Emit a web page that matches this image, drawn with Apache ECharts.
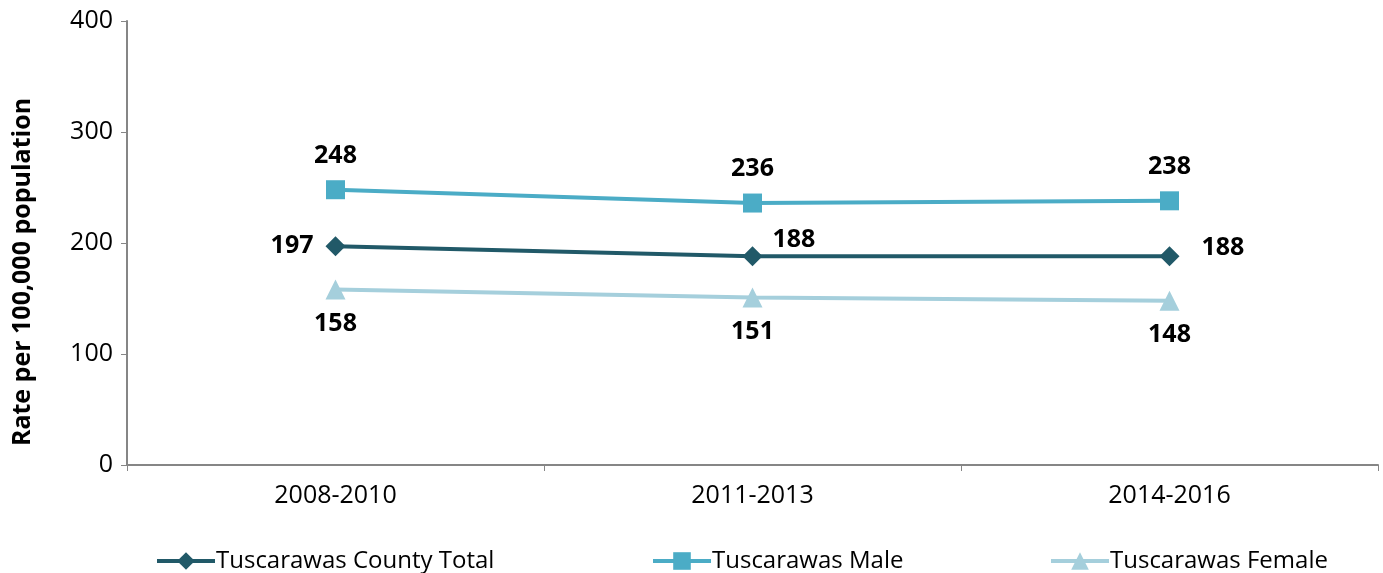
<!DOCTYPE html>
<html><head><meta charset="utf-8">
<script src="https://cdn.jsdelivr.net/npm/echarts@6/dist/echarts.min.js"></script>
<style>html,body{margin:0;padding:0;background:#fff}#c{width:1383px;height:573px}</style>
</head><body><div id="c"></div>
<script>
const categories = ['2008-2010', '2011-2013', '2014-2016'];
const totalValues = [197, 188, 188];
const maleValues = [248, 236, 238];
const femaleValues = [158, 151, 148];
const seriesNames = ['Tuscarawas County Total', 'Tuscarawas Male', 'Tuscarawas Female'];

const FONT = '"Open Sans", "Noto Sans", sans-serif';
const lbl = {show: true, fontFamily: FONT, fontWeight: 'bold', fontSize: 25, color: '#000'};
const chart = echarts.init(document.getElementById('c'));
const totalData = totalValues.map((v, i) => {
  const pos = [{position: 'left', distance: 12, offset: [0, 0]}, {position: 'right', distance: 10, offset: [0, -16]}, {position: 'right', distance: 22, offset: [0, -8]}][i];
  return {value: v, label: Object.assign({}, lbl, pos)};
});
chart.setOption({
  animation: false,
  grid: {left: 127, right: 5, top: 21, bottom: 108},
  legend: [0, 1, 2].map(i => ({
    data: [seriesNames[i]],
    left: [150, 646, 1044][i], top: 544,
    itemWidth: 58, itemHeight: 22, itemGap: 0,
    lineStyle: {width: 4},
    textStyle: {fontFamily: FONT, fontSize: 24, color: '#000', padding: [0, 0, 0, -4]}
  })),
  xAxis: {
    type: 'category', data: categories, boundaryGap: true,
    axisLine: {lineStyle: {color: '#868686', width: 2}},
    axisTick: {show: true, length: 6, lineStyle: {color: '#868686', width: 1}},
    axisLabel: {fontFamily: FONT, fontSize: 25, color: '#000', margin: 18}
  },
  yAxis: {
    type: 'value', min: 0, max: 400, interval: 100,
    name: 'Rate per 100,000 population', nameLocation: 'middle', nameGap: 92,
    nameTextStyle: {fontFamily: FONT, fontSize: 25, fontWeight: 'bold', color: '#000', padding: [0, 58, 0, 0]},
    axisLine: {show: true, lineStyle: {color: '#868686', width: 2}},
    axisTick: {show: true, length: 6, lineStyle: {color: '#868686', width: 1}},
    splitLine: {show: false},
    axisLabel: {fontFamily: FONT, fontSize: 25, color: '#000', margin: 14}
  },
  series: [
    {name: seriesNames[0], type: 'line', data: totalData, symbol: 'diamond', symbolSize: 20,
     itemStyle: {color: '#215968'}, lineStyle: {color: '#215968', width: 4}},
    {name: seriesNames[1], type: 'line', data: maleValues, symbol: 'rect', symbolSize: 19,
     itemStyle: {color: '#4bacc6'}, lineStyle: {color: '#4bacc6', width: 4},
     label: Object.assign({}, lbl, {position: 'top', distance: 12})},
    {name: seriesNames[2], type: 'line', data: femaleValues, symbol: 'triangle', symbolSize: 20,
     itemStyle: {color: '#a5cfdc'}, lineStyle: {color: '#a5cfdc', width: 4},
     label: Object.assign({}, lbl, {position: 'bottom', distance: 12})}
  ]
});
</script></body></html>
